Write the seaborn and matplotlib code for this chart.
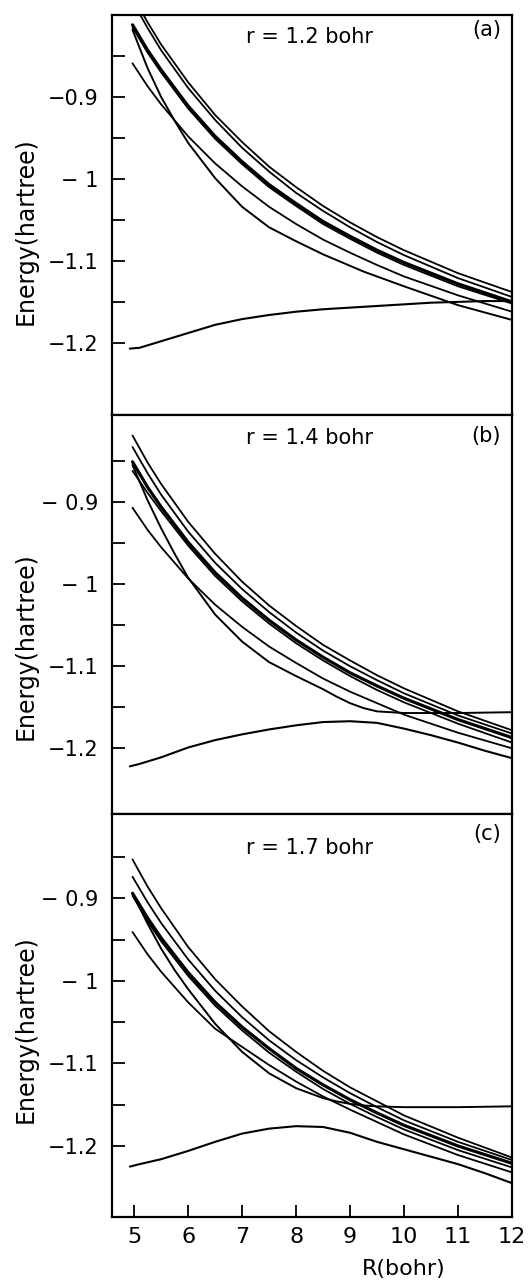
import matplotlib
matplotlib.use("Agg")
import matplotlib.pyplot as plt
import seaborn as sns
from matplotlib.ticker import FixedLocator

sns.set_style("white")
plt.rcParams['font.family'] = ['DejaVu Sans']
plt.rcParams.update({"text.color": "black", "axes.labelcolor": "black",
                     "xtick.color": "black", "ytick.color": "black"})

# ---------------- data ----------------
R = [4.97, 5.25, 5.5, 6, 6.5, 7, 7.5, 8, 8.5, 9, 9.5, 10, 11, 12]
RS = [4.97, 5.25, 5.5, 5.75, 6, 6.5, 7, 7.5, 8, 8.5, 8.75, 9, 9.25, 9.5, 10, 11, 12]
RG = [4.92, 5.1, 5.5, 6, 6.5, 7, 7.5, 8, 8.5, 9, 9.5, 10, 10.5, 11, 11.5, 12]

# panel (a) r = 1.2 bohr
A_T1 = [-0.776, -0.809, -0.836, -0.882, -0.922, -0.955, -0.985, -1.010, -1.033, -1.053, -1.071, -1.087, -1.115, -1.138]
A_T2 = [-0.783, -0.816, -0.843, -0.889, -0.928, -0.962, -0.991, -1.017, -1.039, -1.059, -1.077, -1.093, -1.121, -1.144]
A_B1 = [-0.812, -0.843, -0.867, -0.911, -0.948, -0.979, -1.007, -1.030, -1.052, -1.070, -1.087, -1.102, -1.128, -1.150]
A_B2 = [-0.815, -0.846, -0.870, -0.914, -0.951, -0.982, -1.010, -1.033, -1.055, -1.073, -1.090, -1.105, -1.131, -1.152]
A_L = [-0.859, -0.887, -0.909, -0.948, -0.981, -1.009, -1.034, -1.055, -1.074, -1.090, -1.105, -1.119, -1.142, -1.162]
A_S = [-0.818, -0.865, -0.900, -0.929, -0.956, -0.999, -1.034, -1.059, -1.076, -1.092, -1.099, -1.106, -1.113, -1.119, -1.131, -1.154, -1.172]
A_G = [-1.207, -1.206, -1.198, -1.188, -1.178, -1.171, -1.166, -1.162, -1.159, -1.157, -1.155, -1.153, -1.151, -1.150, -1.149, -1.149]

# panel (b) r = 1.4 bohr
B_T1 = [-0.819, -0.852, -0.878, -0.924, -0.963, -0.997, -1.026, -1.051, -1.074, -1.093, -1.111, -1.127, -1.155, -1.178]
B_T2 = [-0.833, -0.865, -0.891, -0.936, -0.974, -1.006, -1.034, -1.059, -1.081, -1.100, -1.117, -1.133, -1.160, -1.182]
B_B1 = [-0.851, -0.882, -0.906, -0.949, -0.986, -1.017, -1.044, -1.068, -1.089, -1.108, -1.124, -1.139, -1.165, -1.187]
B_B2 = [-0.862, -0.889, -0.911, -0.953, -0.990, -1.021, -1.048, -1.072, -1.093, -1.112, -1.129, -1.144, -1.170, -1.193]
B_L = [-0.907, -0.934, -0.955, -0.993, -1.025, -1.052, -1.076, -1.096, -1.115, -1.131, -1.145, -1.159, -1.181, -1.200]
B_S = [-0.855, -0.898, -0.932, -0.963, -0.992, -1.037, -1.070, -1.095, -1.112, -1.128, -1.137, -1.145, -1.151, -1.155, -1.157, -1.157, -1.156]
B_G = [-1.222, -1.219, -1.211, -1.199, -1.190, -1.183, -1.177, -1.172, -1.168, -1.167, -1.169, -1.176, -1.184, -1.193, -1.203, -1.212]

# panel (c) r = 1.7 bohr
C_T1 = [-0.853, -0.886, -0.912, -0.959, -0.998, -1.031, -1.061, -1.086, -1.109, -1.129, -1.146, -1.163, -1.190, -1.214]
C_T2 = [-0.874, -0.905, -0.930, -0.974, -1.012, -1.044, -1.072, -1.096, -1.117, -1.136, -1.153, -1.169, -1.195, -1.217]
C_B1 = [-0.894, -0.924, -0.948, -0.990, -1.026, -1.056, -1.082, -1.106, -1.126, -1.144, -1.160, -1.175, -1.200, -1.221]
C_B2 = [-0.897, -0.928, -0.952, -0.994, -1.030, -1.060, -1.087, -1.110, -1.131, -1.149, -1.165, -1.180, -1.205, -1.226]
C_L = [-0.941, -0.968, -0.989, -1.026, -1.058, -1.080, -1.102, -1.122, -1.140, -1.156, -1.171, -1.186, -1.211, -1.232]
C_S = [-0.894, -0.931, -0.961, -0.987, -1.010, -1.052, -1.086, -1.112, -1.130, -1.142, -1.146, -1.149, -1.151, -1.152, -1.153, -1.153, -1.152]
C_G = [-1.225, -1.222, -1.216, -1.206, -1.195, -1.185, -1.179, -1.176, -1.177, -1.184, -1.195, -1.204, -1.213, -1.222, -1.233, -1.245]

TITLES = ["r = 1.2 bohr", "r = 1.4 bohr", "r = 1.7 bohr"]
TAGS = ["(a)", "(b)", "(c)"]
YTICKS = [-0.9, -1.0, -1.1, -1.2]
YMINOR = [-0.85, -0.95, -1.05, -1.15]
YLABELS = [["\u22120.9", "\u2212 1", "\u22121.1", "\u22121.2"],
           ["\u2212 0.9", "\u2212 1", "\u22121.1", "\u22121.2"],
           ["\u2212 0.9", "\u2212 1", "\u22121.1", "\u22121.2"]]
XTICKS = [5, 6, 7, 8, 9, 10, 11, 12]

panels = [
    dict(rep=[A_T1, A_T2, A_B1, A_B2, A_L], s=A_S, g=A_G, ylim=(-1.288, -0.800)),
    dict(rep=[B_T1, B_T2, B_B1, B_B2, B_L], s=B_S, g=B_G, ylim=(-1.280, -0.794)),
    dict(rep=[C_T1, C_T2, C_B1, C_B2, C_L], s=C_S, g=C_G, ylim=(-1.286, -0.798)),
]

# ---------------- figure ----------------
fig = plt.figure(figsize=(5.28, 12.83), dpi=100)
left, width = 112 / 528, 400 / 528
rects = [(left, 1 - 415 / 1283, width, 400 / 1283),
         (left, 1 - 814 / 1283, width, 399 / 1283),
         (left, 1 - 1217 / 1283, width, 403 / 1283)]
label_y = [0.46, 0.42, 0.465]
title_y = [0.945, 0.942, 0.915]
tag_y = [0.962, 0.947, 0.950]

for i, (p, rect) in enumerate(zip(panels, rects)):
    ax = fig.add_axes(rect)
    for j, ys in enumerate(p["rep"]):
        lw = 2.3 if j == 2 else 1.3
        sns.lineplot(x=R, y=ys, ax=ax, color="black", linewidth=lw, errorbar=None)
    sns.lineplot(x=RS, y=p["s"], ax=ax, color="black", linewidth=1.4, errorbar=None)
    sns.lineplot(x=RG, y=p["g"], ax=ax, color="black", linewidth=1.5, errorbar=None)

    ax.set_xlim(4.59, 12.0)
    ax.set_ylim(*p["ylim"])
    for s in ax.spines.values():
        s.set_color("black")
        s.set_linewidth(1.6)
        s.set_visible(True)

    ax.yaxis.set_major_locator(FixedLocator(YTICKS))
    ax.yaxis.set_minor_locator(FixedLocator(YMINOR))
    ax.set_yticklabels(YLABELS[i])
    ax.tick_params(axis="y", which="both", left=True, right=False, direction="in",
                   length=9.5, width=1.3, color="black", pad=10, labelsize=15,
                   labelcolor="black")
    ax.set_ylabel("Energy(hartree)", fontsize=17, color="black")
    ax.yaxis.set_label_coords(-0.185, label_y[i])

    ax.set_xticks(XTICKS)
    if i == 2:
        ax.set_xticklabels([str(t) for t in XTICKS])
        ax.tick_params(axis="x", which="both", bottom=True, top=False, direction="in",
                       length=8.5, width=1.3, color="black", pad=7, labelsize=16,
                       labelcolor="black")
        ax.set_xlabel("R(bohr)", fontsize=16, color="black")
        ax.xaxis.set_label_coords(0.73, -0.105)
    else:
        ax.tick_params(axis="x", which="both", bottom=False, top=False, labelbottom=False)
        ax.set_xlabel("")

    ax.text(0.494, title_y[i], TITLES[i], transform=ax.transAxes, ha="center",
            va="center", fontsize=15, color="black")
    ax.text(0.973, tag_y[i], TAGS[i], transform=ax.transAxes, ha="right",
            va="center", fontsize=15, color="black")

fig.savefig("out.png", dpi=100)
